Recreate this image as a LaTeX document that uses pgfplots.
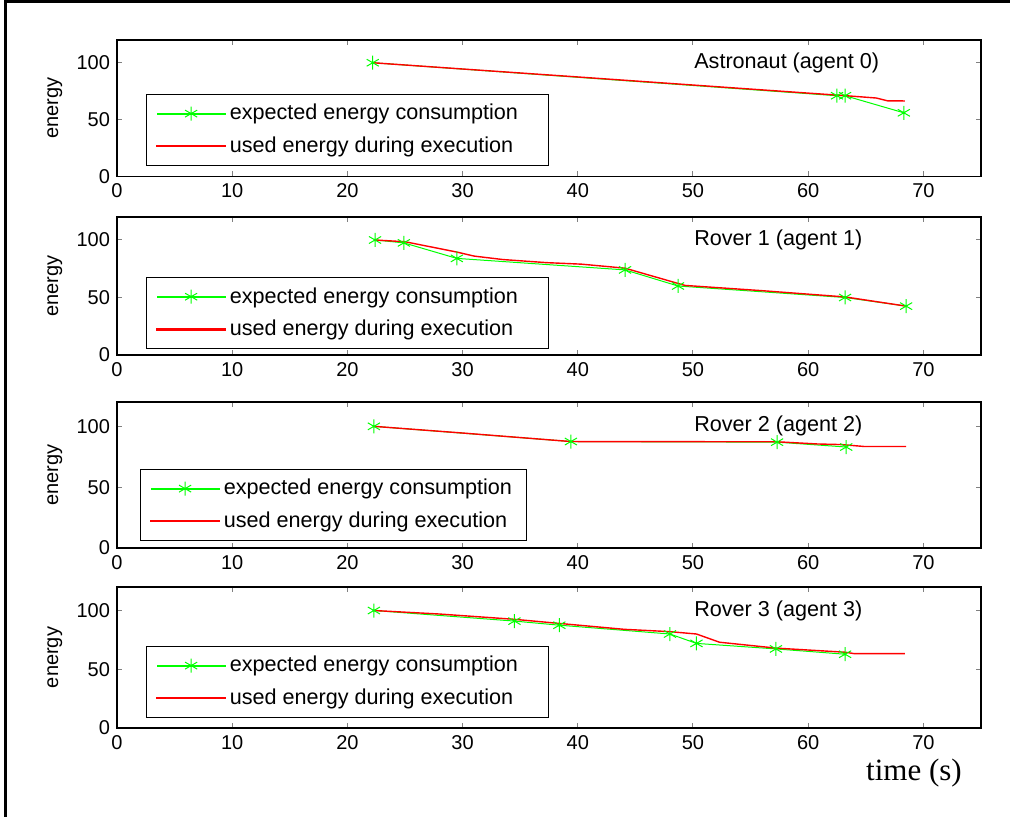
\documentclass[border=0pt]{standalone}
\usepackage{fontspec}
\setmainfont{Liberation Sans}
\newfontfamily\timesfont{Liberation Serif}
\usepackage{pgfplots}
\pgfplotsset{compat=1.18}

\pgfplotsset{
  sub/.style={
    scale only axis, width=432pt,
    xmin=0, xmax=75, ymin=0, ymax=120,
    xtick={0,10,...,70}, ytick={0,50,100},
    tick align=inside, major tick length=2.5pt,
    axis line style={line width=0.6pt},
    major tick style={line width=0.5pt},
    tick label style={font=\fontsize{10}{12}\selectfont},
    /pgf/number format/assume math mode=true,
    ylabel=energy,
    ylabel style={font=\fontsize{10}{12}\selectfont, at={(axis description cs:-0.072,0.5)}, anchor=center},
    legend cell align=left,
    legend style={draw=black, anchor=south west,
      font=\fontsize{10.8}{12}\selectfont, row sep=3pt, inner xsep=5pt, inner ysep=3pt},
    % sample line as a thin filled bar, marker in the middle
    legend image code/.code={
      \fill[##1, mark=none] (0pt,-0.25pt) rectangle (34pt,0.25pt);
      \draw[##1, draw=none] plot coordinates {(17pt,0pt)};
      \hspace{4pt}},
  },
  expd/.style={color=green, line width=0.5pt, mark=asterisk, mark size=3.5pt},
  used/.style={color=red, line width=0.7pt},
}

\begin{document}
\begin{tikzpicture}
\useasboundingbox (0,0) rectangle (505pt,-408.5pt);
\draw[line width=1.5pt] (2.5pt,-408.5pt) -- (2.5pt,-1pt) -- (505pt,-1pt);

% Astronaut
\begin{axis}[sub, height=68.25pt, at={(58.5pt,-88.25pt)}, anchor=south west,
  legend style={at={(axis description cs:0.0336,0.077)}}]
\addplot[expd] coordinates {(22.2,100) (62.5,71) (63.2,71) (68.3,56)};
\addlegendentry{expected energy consumption\kern8pt\relax}
\addplot[used] coordinates {(22.2,100) (30,94.5) (40,87.5) (50,80.4) (60,73.3)
  (63.3,71) (64.6,70) (65.9,69) (66.9,66.5) (68.4,66.4)};
\addlegendentry{used energy during execution}
\node[anchor=west, font=\fontsize{10.8}{12}\selectfont] at (axis cs:49.5,100) {Astronaut (agent 0)};
\end{axis}

% Rover 1
\begin{axis}[sub, height=69pt, at={(58.5pt,-177.5pt)}, anchor=south west,
  legend style={at={(axis description cs:0.0336,0.043)}}]
\addplot[expd] coordinates {(22.4,100) (24.9,97.5) (29.5,84) (44.1,74) (48.7,60) (63.2,50) (68.5,42.5)};
\addlegendentry{expected energy consumption\kern8pt\relax}
\addplot[used] coordinates {(22.4,100) (25,98.5) (29.5,89.5) (31,86) (33.5,83) (37.3,80.3)
  (40.3,79) (44.1,75.5) (46,70) (49.3,60.5) (55.9,56) (63.2,50.5) (68.5,42.5)};
\addlegendentry{used energy during execution}
\node[anchor=west, font=\fontsize{10.8}{12}\selectfont] at (axis cs:49.5,100) {Rover 1 (agent 1)};
\end{axis}

% Rover 2
\begin{axis}[sub, height=73pt, at={(58.5pt,-274pt)}, anchor=south west,
  legend style={at={(axis description cs:0.0266,0.048)}}]
\addplot[expd] coordinates {(22.3,100) (39.4,87.5) (57.3,87) (63.3,83)};
\addlegendentry{expected energy consumption}
\addplot[used] coordinates {(22.3,100) (30,94.5) (39.4,87.5) (57.3,87.3) (60.8,85.5)
  (62.9,85) (64.9,83.4) (68.5,83.4)};
\addlegendentry{used energy during execution}
\node[anchor=west, font=\fontsize{10.8}{12}\selectfont] at (axis cs:49.5,100) {Rover 2 (agent 2)};
\end{axis}

% Rover 3
\begin{axis}[sub, height=70.5pt, at={(58.5pt,-364pt)}, anchor=south west,
  legend style={at={(axis description cs:0.0336,0.071)}}]
\addplot[expd] coordinates {(22.3,100) (34.5,91) (38.4,87.5) (48,80) (50.3,72) (57.2,67.3) (63.2,62.8)};
\addlegendentry{expected energy consumption\kern8pt\relax}
\addplot[used] coordinates {(22.3,100) (28,97) (34.5,92.5) (38.4,89) (44,84) (48,82)
  (50.3,80) (52.3,73) (57.2,68) (63.2,64.5) (64,63.3) (68.4,63.3)};
\addlegendentry{used energy during execution}
\node[anchor=west, font=\fontsize{10.8}{12}\selectfont] at (axis cs:49.5,100) {Rover 3 (agent 3)};
\end{axis}

\node[font=\timesfont\fontsize{15.5}{18}\selectfont] at (457pt,-386.5pt) {time (s)};
\end{tikzpicture}
\end{document}
